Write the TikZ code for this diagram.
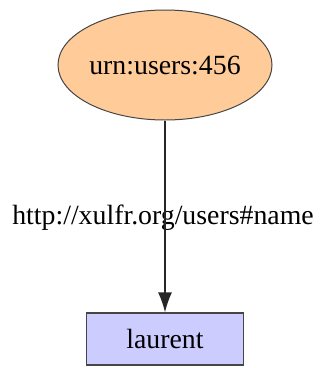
\documentclass[tikz,border=0pt]{standalone}
\usepackage{fontspec}
\setmainfont{Liberation Serif}
\usetikzlibrary{shapes.geometric,arrows.meta}
\definecolor{resfill}{RGB}{255,204,153}
\definecolor{litfill}{RGB}{204,204,255}
\definecolor{edgegray}{RGB}{70,70,70}
\begin{document}
\begin{tikzpicture}[x=1pt,y=-1pt,
    res/.style={ellipse,draw=edgegray,fill=resfill,line width=1pt,minimum width=194pt,minimum height=110pt,inner sep=0pt,font=\fontsize{27.8}{32}\selectfont},
    lit/.style={rectangle,draw=edgegray,fill=litfill,line width=1.2pt,minimum width=157pt,minimum height=52pt,inner sep=0pt,font=\fontsize{27.8}{32}\selectfont},
    prop/.style={inner sep=0pt,font=\fontsize{27.8}{32}\selectfont}]
    \useasboundingbox (0,0) rectangle (322,368);

    \node[res] (user) at (165,65) {urn:users:456};
    \node[lit] (name) at (165,339) {laurent};
    \node[prop] (predicate) at (163,218) {http://xulfr.org/users\#name};

    \draw[-{Latex[length=20pt,width=14pt]},line width=1.4pt,black!85] (user) -- (name);
\end{tikzpicture}
\end{document}
